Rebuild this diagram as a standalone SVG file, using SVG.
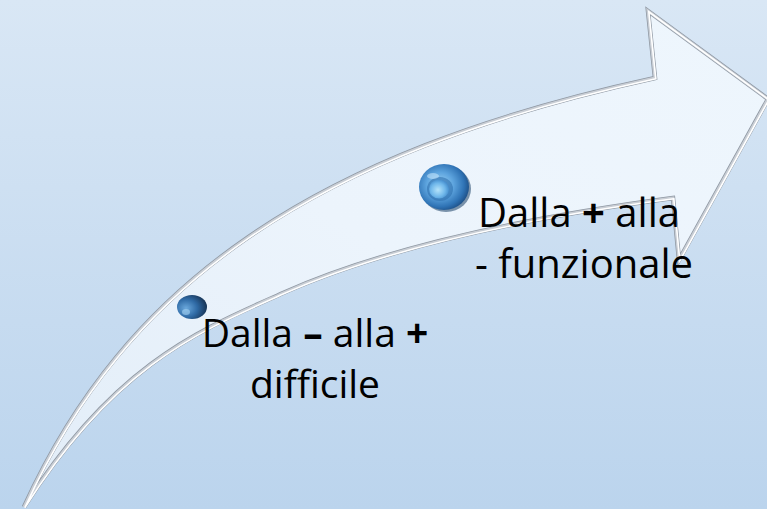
<svg xmlns="http://www.w3.org/2000/svg" width="767" height="509" viewBox="0 0 767 509">
  <defs>
    <linearGradient id="bg" x1="0" y1="0" x2="0" y2="1">
      <stop offset="0" stop-color="#d9e7f5"/>
      <stop offset="1" stop-color="#bbd4ed"/>
    </linearGradient>
    <linearGradient id="arrowFill" x1="0" y1="1" x2="1" y2="0">
      <stop offset="0" stop-color="#e2edf8"/>
      <stop offset="0.5" stop-color="#ecf4fc"/>
      <stop offset="1" stop-color="#eef6fd"/>
    </linearGradient>
    <radialGradient id="bigBall" cx="0.42" cy="0.45" r="0.6">
      <stop offset="0" stop-color="#9fd3f5"/>
      <stop offset="0.45" stop-color="#5da4de"/>
      <stop offset="0.8" stop-color="#2f73b5"/>
      <stop offset="1" stop-color="#1d4f86"/>
    </radialGradient>
    <radialGradient id="bigInner" cx="0.45" cy="0.55" r="0.6">
      <stop offset="0" stop-color="#b5e3fa"/>
      <stop offset="0.6" stop-color="#6fb7ea"/>
      <stop offset="1" stop-color="#3d85c8"/>
    </radialGradient>
    <radialGradient id="smallBall" cx="0.3" cy="0.55" r="0.75">
      <stop offset="0" stop-color="#6aa8dc"/>
      <stop offset="0.5" stop-color="#2f6aa5"/>
      <stop offset="1" stop-color="#132c4a"/>
    </radialGradient>
    <path id="arrowPath" d="M24,507 C125,285 310,153 655,78 L648,11 L768,99 L679,260 L673,198 C560,213 400,241 283,293 C203,329 116,362 24,507 Z"/>
    <style>
      .lbl { font-family: "Open Sans", "Liberation Sans", sans-serif; font-size: 40px; fill: #000000; }
      .lbl2 { font-family: "Open Sans", "Liberation Sans", sans-serif; font-size: 39px; fill: #000000; }
      .b { font-weight: bold; }
      .edge { fill: none; stroke: #8f98a3; stroke-width: 4.5; stroke-linejoin: miter; }
      .mid { fill: none; stroke: #c9ced5; stroke-width: 3; stroke-linejoin: miter; }
      .hl { fill: none; stroke: #ffffff; stroke-width: 1.6; stroke-linejoin: miter; }
    </style>
  </defs>

  <rect x="0" y="0" width="767" height="509" fill="url(#bg)"/>

  <g id="arrow">
    <use href="#arrowPath" fill="url(#arrowFill)"/>
    <use href="#arrowPath" class="edge"/>
    <use href="#arrowPath" class="mid"/>
    <use href="#arrowPath" class="hl" transform="translate(0.8,0.8)"/>
  </g>

  <g id="bubble-big">
    <ellipse cx="446" cy="189" rx="25" ry="23" fill="#1a3f66" opacity="0.55"/>
    <ellipse cx="444" cy="187" rx="25" ry="23" fill="url(#bigBall)"/>
    <ellipse cx="440" cy="189" rx="13" ry="12" fill="#2f6fae" opacity="0.6"/>
    <ellipse cx="439" cy="189" rx="10" ry="9.5" fill="url(#bigInner)"/>
    <ellipse cx="433" cy="176" rx="6" ry="3" fill="#d6f0ff" opacity="0.5"/>
  </g>

  <g id="bubble-small">
    <ellipse cx="192" cy="307" rx="15" ry="12" fill="url(#smallBall)"/>
    <ellipse cx="186" cy="312" rx="4" ry="3" fill="#a9d6f5" opacity="0.6"/>
  </g>

  <g id="label-top">
    <text class="lbl" x="478" y="227">Dalla <tspan class="b">+</tspan> alla</text>
    <text class="lbl" x="475" y="278">- funzionale</text>
  </g>

  <g id="label-bottom">
    <text class="lbl2" x="315" y="347" text-anchor="middle">Dalla <tspan class="b">–</tspan> alla <tspan class="b">+</tspan></text>
    <text class="lbl2" x="315" y="398" text-anchor="middle">difficile</text>
  </g>
</svg>
